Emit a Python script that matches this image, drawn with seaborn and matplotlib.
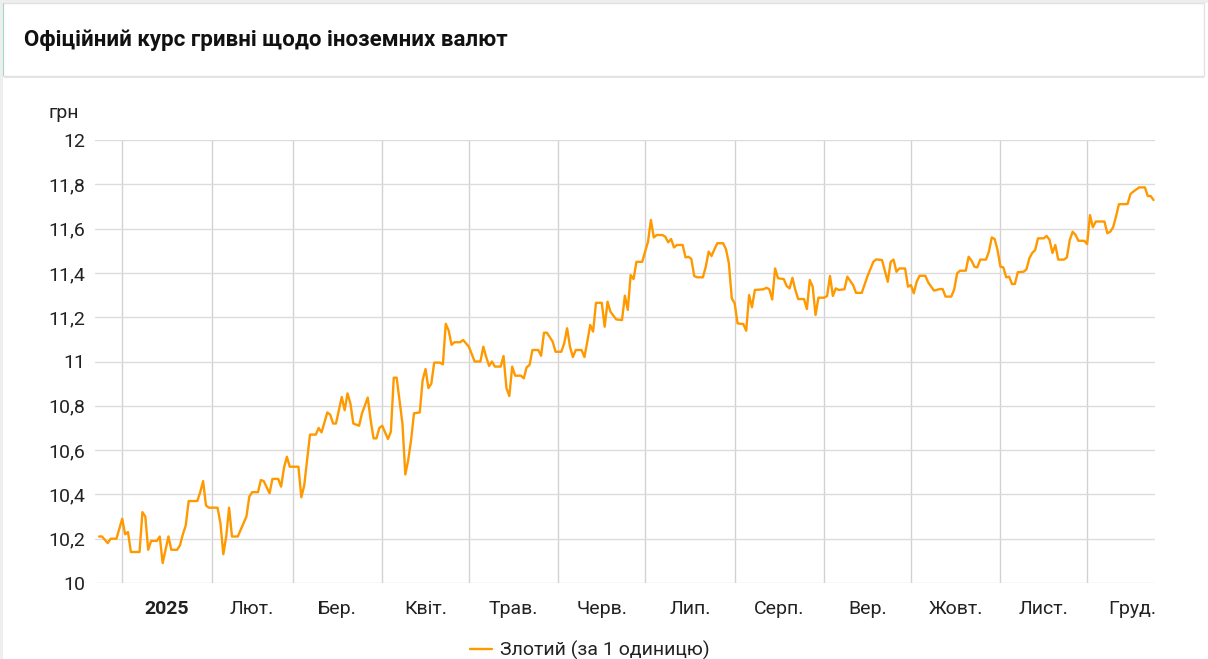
import numpy as np
import pandas as pd
import matplotlib
matplotlib.use("Agg")
import matplotlib.pyplot as plt
from matplotlib.ticker import FuncFormatter, FixedLocator
from matplotlib.patches import Rectangle
from matplotlib.lines import Line2D
import seaborn as sns

title = "Офіційний курс гривні щодо іноземних валют"
unit_label = "грн"
series_name = "Злотий (за 1 одиницю)"
month_labels = ["2025", "Лют.", "Бер.", "Квіт.", "Трав.", "Черв.", "Лип.",
                "Серп.", "Вер.", "Жовт.", "Лист.", "Груд."]
y_ticks = [10, 10.2, 10.4, 10.6, 10.8, 11, 11.2, 11.4, 11.6, 11.8, 12]

dates = [
    "2024-12-24", "2024-12-25", "2024-12-27", "2024-12-28", "2024-12-30",
    "2025-01-01", "2025-01-02", "2025-01-03", "2025-01-04", "2025-01-06",
    "2025-01-07", "2025-01-08", "2025-01-09", "2025-01-10", "2025-01-11",
    "2025-01-13", "2025-01-14", "2025-01-15", "2025-01-17", "2025-01-18",
    "2025-01-20", "2025-01-21", "2025-01-22", "2025-01-23", "2025-01-24",
    "2025-01-27", "2025-01-28", "2025-01-29", "2025-01-30", "2025-01-31",
    "2025-02-03", "2025-02-04", "2025-02-05", "2025-02-06", "2025-02-07",
    "2025-02-08", "2025-02-10", "2025-02-11", "2025-02-12", "2025-02-13",
    "2025-02-14", "2025-02-15", "2025-02-17", "2025-02-18", "2025-02-19",
    "2025-02-21", "2025-02-22", "2025-02-24", "2025-02-25", "2025-02-26",
    "2025-02-27", "2025-02-28", "2025-03-03", "2025-03-04", "2025-03-05",
    "2025-03-07", "2025-03-09", "2025-03-10", "2025-03-11", "2025-03-13",
    "2025-03-14", "2025-03-15", "2025-03-16", "2025-03-18", "2025-03-19",
    "2025-03-20", "2025-03-21", "2025-03-22", "2025-03-24", "2025-03-25",
    "2025-03-27", "2025-03-28", "2025-03-29", "2025-03-30", "2025-03-31",
    "2025-04-01", "2025-04-03", "2025-04-04", "2025-04-05", "2025-04-06",
    "2025-04-08", "2025-04-09", "2025-04-10", "2025-04-11", "2025-04-12",
    "2025-04-14", "2025-04-15", "2025-04-16", "2025-04-17", "2025-04-18",
    "2025-04-19", "2025-04-21", "2025-04-22", "2025-04-23", "2025-04-24",
    "2025-04-25", "2025-04-26", "2025-04-28", "2025-04-29", "2025-04-30",
    "2025-05-01", "2025-05-03", "2025-05-05", "2025-05-06", "2025-05-07",
    "2025-05-08", "2025-05-09", "2025-05-10", "2025-05-12", "2025-05-13",
    "2025-05-14", "2025-05-15", "2025-05-16", "2025-05-17", "2025-05-19",
    "2025-05-20", "2025-05-21", "2025-05-22", "2025-05-23", "2025-05-25",
    "2025-05-26", "2025-05-27", "2025-05-28", "2025-05-30", "2025-05-31",
    "2025-06-02", "2025-06-03", "2025-06-04", "2025-06-05", "2025-06-06",
    "2025-06-07", "2025-06-09", "2025-06-10", "2025-06-11", "2025-06-12",
    "2025-06-13", "2025-06-14", "2025-06-16", "2025-06-17", "2025-06-18",
    "2025-06-19", "2025-06-21", "2025-06-23", "2025-06-24", "2025-06-25",
    "2025-06-26", "2025-06-27", "2025-06-28", "2025-06-30", "2025-07-01",
    "2025-07-02", "2025-07-03", "2025-07-04", "2025-07-05", "2025-07-07",
    "2025-07-08", "2025-07-09", "2025-07-10", "2025-07-11", "2025-07-12",
    "2025-07-14", "2025-07-15", "2025-07-16", "2025-07-17", "2025-07-18",
    "2025-07-19", "2025-07-21", "2025-07-22", "2025-07-23", "2025-07-24",
    "2025-07-25", "2025-07-26", "2025-07-28", "2025-07-29", "2025-07-30",
    "2025-07-31", "2025-08-01", "2025-08-02", "2025-08-04", "2025-08-05",
    "2025-08-06", "2025-08-07", "2025-08-08", "2025-08-11", "2025-08-12",
    "2025-08-13", "2025-08-14", "2025-08-15", "2025-08-16", "2025-08-18",
    "2025-08-19", "2025-08-20", "2025-08-21", "2025-08-22", "2025-08-23",
    "2025-08-25", "2025-08-26", "2025-08-27", "2025-08-28", "2025-08-29",
    "2025-08-30", "2025-09-01", "2025-09-02", "2025-09-03", "2025-09-04",
    "2025-09-05", "2025-09-06", "2025-09-08", "2025-09-09", "2025-09-11",
    "2025-09-12", "2025-09-14", "2025-09-16", "2025-09-18", "2025-09-19",
    "2025-09-21", "2025-09-23", "2025-09-24", "2025-09-25", "2025-09-26",
    "2025-09-27", "2025-09-29", "2025-09-30", "2025-10-01", "2025-10-02",
    "2025-10-03", "2025-10-04", "2025-10-06", "2025-10-07", "2025-10-09",
    "2025-10-11", "2025-10-12", "2025-10-13", "2025-10-15", "2025-10-16",
    "2025-10-17", "2025-10-18", "2025-10-20", "2025-10-21", "2025-10-22",
    "2025-10-23", "2025-10-24", "2025-10-25", "2025-10-27", "2025-10-28",
    "2025-10-29", "2025-10-30", "2025-10-31", "2025-11-01", "2025-11-02",
    "2025-11-03", "2025-11-04", "2025-11-05", "2025-11-06", "2025-11-07",
    "2025-11-09", "2025-11-10", "2025-11-11", "2025-11-12", "2025-11-13",
    "2025-11-14", "2025-11-16", "2025-11-17", "2025-11-18", "2025-11-19",
    "2025-11-20", "2025-11-21", "2025-11-23", "2025-11-24", "2025-11-25",
    "2025-11-26", "2025-11-27", "2025-11-28", "2025-11-30", "2025-12-01",
    "2025-12-02", "2025-12-03", "2025-12-04", "2025-12-07", "2025-12-08",
    "2025-12-09", "2025-12-10", "2025-12-11", "2025-12-12", "2025-12-15",
    "2025-12-16", "2025-12-17", "2025-12-19", "2025-12-21", "2025-12-22",
    "2025-12-23", "2025-12-24",
]

rates = [
    10.21, 10.21, 10.18, 10.20, 10.20,
    10.29, 10.22, 10.23, 10.14, 10.14,
    10.14, 10.32, 10.30, 10.15, 10.19,
    10.19, 10.21, 10.09, 10.21, 10.15,
    10.15, 10.17, 10.22, 10.26, 10.37,
    10.37, 10.41, 10.46, 10.35, 10.34,
    10.34, 10.27, 10.13, 10.21, 10.34,
    10.21, 10.21, 10.24, 10.27, 10.30,
    10.39, 10.41, 10.41, 10.465, 10.46,
    10.405, 10.47, 10.47, 10.435, 10.52,
    10.57, 10.525, 10.525, 10.387, 10.44,
    10.67, 10.67, 10.70, 10.68, 10.77,
    10.76, 10.72, 10.72, 10.84, 10.78,
    10.856, 10.81, 10.72, 10.71, 10.766,
    10.837, 10.736, 10.653, 10.653, 10.70,
    10.71, 10.65, 10.683, 10.927, 10.927,
    10.72, 10.49, 10.555, 10.646, 10.766,
    10.77, 10.916, 10.966, 10.88, 10.90,
    10.995, 10.995, 10.987, 11.17, 11.14,
    11.075, 11.087, 11.087, 11.097, 11.082,
    11.067, 11.0, 11.0, 11.067, 11.02,
    10.98, 11.0, 10.977, 10.977, 11.025,
    10.88, 10.844, 10.977, 10.936, 10.936,
    10.924, 10.974, 10.984, 11.052, 11.052,
    11.026, 11.13, 11.13, 11.09, 11.044,
    11.044, 11.082, 11.15, 11.067, 11.02,
    11.052, 11.052, 11.02, 11.09, 11.165,
    11.135, 11.265, 11.265, 11.157, 11.27,
    11.225, 11.19, 11.187, 11.297, 11.233,
    11.39, 11.372, 11.45, 11.45, 11.496,
    11.54, 11.639, 11.56, 11.571, 11.571,
    11.563, 11.538, 11.553, 11.515, 11.526,
    11.526, 11.47, 11.473, 11.463, 11.386,
    11.38, 11.38, 11.428, 11.496, 11.476,
    11.507, 11.534, 11.534, 11.507, 11.443,
    11.285, 11.263, 11.172, 11.169, 11.139,
    11.30, 11.245, 11.323, 11.326, 11.333,
    11.326, 11.28, 11.42, 11.376, 11.372,
    11.341, 11.33, 11.378, 11.323, 11.282,
    11.282, 11.237, 11.368, 11.338, 11.21,
    11.288, 11.288, 11.296, 11.386, 11.296,
    11.33, 11.323, 11.326, 11.383, 11.345,
    11.31, 11.31, 11.386, 11.45, 11.461,
    11.458, 11.36, 11.45, 11.46, 11.405,
    11.42, 11.42, 11.338, 11.345, 11.308,
    11.36, 11.387, 11.387, 11.357, 11.32,
    11.327, 11.327, 11.293, 11.293, 11.326,
    11.398, 11.41, 11.41, 11.473, 11.455,
    11.428, 11.425, 11.46, 11.46, 11.496,
    11.56, 11.553, 11.503, 11.428, 11.425,
    11.38, 11.383, 11.35, 11.35, 11.403,
    11.405, 11.416, 11.466, 11.49, 11.503,
    11.556, 11.556, 11.567, 11.549, 11.49,
    11.526, 11.46, 11.46, 11.47, 11.549,
    11.586, 11.571, 11.545, 11.545, 11.53,
    11.661, 11.606, 11.632, 11.632, 11.579,
    11.586, 11.606, 11.654, 11.71, 11.711,
    11.756, 11.767, 11.786, 11.786, 11.747,
    11.747, 11.729,
]

LINE_COLOR = "#ff9900"
TEXT_COLOR = "#222222"

sns.set_style("white")
plt.rcParams["font.family"] = ["Roboto", "DejaVu Sans"]

W, H = 1208, 659
fig = plt.figure(figsize=(W / 100, H / 100), dpi=100)
fig.patch.set_facecolor("white")

# page decoration: left border strip and title box
fig.patches.append(Rectangle((0, 0), 3 / W, 1, transform=fig.transFigure,
                             facecolor="#eeeeee", edgecolor="none", zorder=0))
fig.patches.append(Rectangle((0, 1 - 3 / H), 1, 3 / H, transform=fig.transFigure,
                             facecolor="#eeeeee", edgecolor="none", zorder=0))
fig.patches.append(Rectangle((4 / W, 1 - 78 / H), 1200 / W, 2 / H, transform=fig.transFigure,
                             facecolor="#e4e4e4", edgecolor="none", zorder=0))
fig.patches.append(Rectangle((3 / W, 1 - 76 / H), 1201 / W, 73 / H, transform=fig.transFigure,
                             facecolor="white", edgecolor="#e2e2e2", linewidth=1, zorder=1))
fig.patches.append(Rectangle((3 / W, 1 - 76 / H), 1 / W, 73 / H, transform=fig.transFigure,
                             facecolor="#9fdcc0", edgecolor="none", zorder=2))

fig.text(24 / W, 1 - 40 / H, title, fontsize=16, fontweight="bold",
         color="#111111", va="center", ha="left")
fig.text(48 / W, 1 - 113 / H, unit_label, fontsize=14, color=TEXT_COLOR,
         va="center", ha="left")

ax = fig.add_axes([95 / W, 1 - 583 / H, (1155 - 95) / W, (583 - 140) / H])
df = pd.DataFrame({"date": pd.to_datetime(dates), "rate": rates})
sns.lineplot(data=df, x="date", y="rate", ax=ax, color=LINE_COLOR,
             linewidth=1.7, legend=False)

ax.set_xlim(pd.Timestamp("2024-12-22 14:00"), pd.Timestamp("2025-12-24 12:00"))
ax.set_ylim(10, 12)
ax.set_xlabel("")
ax.set_ylabel("")

month_starts = pd.date_range("2025-01-01", periods=13, freq="MS")
mids = [month_starts[i] + (month_starts[i + 1] - month_starts[i]) / 2 for i in range(12)]
ax.set_xticks(mids)
ax.set_xticklabels(month_labels)
ax.set_xticks(list(month_starts[:12]), minor=True)
ax.get_xticklabels()[0].set_fontweight("bold")

ax.yaxis.set_major_locator(FixedLocator(y_ticks))
ax.yaxis.set_major_formatter(FuncFormatter(lambda v, p: ("%g" % round(v, 1)).replace(".", ",")))

ax.grid(False)
ax.xaxis.grid(True, which="minor", color="#d2d2d2", linewidth=1)
ax.yaxis.grid(True, which="major", color="#dcdcdc", linewidth=1)
ax.set_axisbelow(True)
for s in ax.spines.values():
    s.set_visible(False)
ax.tick_params(axis="both", which="both", length=0, labelsize=14, colors=TEXT_COLOR)
ax.tick_params(axis="y", pad=7)
ax.tick_params(axis="x", pad=12)

handle = Line2D([0], [0], color=LINE_COLOR, linewidth=1.7)
fig.legend([handle], [series_name], loc="center", bbox_to_anchor=(590 / W, 1 - 650 / H),
           frameon=False, fontsize=14, handlelength=1.1, handletextpad=0.45,
           labelcolor=TEXT_COLOR)

fig.savefig("out.png", dpi=100, facecolor="white")
